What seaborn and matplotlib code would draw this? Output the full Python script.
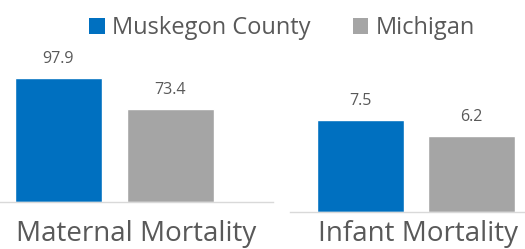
import matplotlib
matplotlib.use('Agg')
import matplotlib.pyplot as plt
from matplotlib.patches import Patch
import pandas as pd
import seaborn as sns

# data
regions = ['Muskegon County', 'Michigan']
maternal_values = [97.9, 73.4]
infant_values = [7.5, 6.2]
panel_titles = ['Maternal Mortality', 'Infant Mortality']
region_colors = ['#0070C0', '#A5A5A5']

sns.set_style('white')
plt.rcParams['font.family'] = ['Open Sans', 'DejaVu Sans']
text_color = '#595959'

fig = plt.figure(figsize=(5.25, 2.49), dpi=100)

# left panel spans 0..273 px, baseline at y=202; right panel 290..545 px, baseline at y=212
ax_left = fig.add_axes([0.0, 47 / 249, 273 / 525, 162 / 249])
ax_right = fig.add_axes([290 / 525, 37 / 249, 255 / 525, 172 / 249])

panels = [
    (ax_left, maternal_values, panel_titles[0], 127.9, (-0.52, 1.915), 13.0),
    (ax_right, infant_values, panel_titles[1], 14.0, (-0.63, 1.66), 5.5),
]

for axes, values, title, ymax, xlim, pad in panels:
    df = pd.DataFrame({'region': regions, 'value': values})
    sns.barplot(data=df, x='region', y='value', hue='region', palette=region_colors,
                width=0.78, legend=False, ax=axes, saturation=1)
    for container in axes.containers:
        axes.bar_label(container, fmt='%.1f', padding=8, fontsize=11.5, color=text_color)
    axes.set_ylim(0, ymax)
    axes.set_xlim(*xlim)
    axes.set_xticks([])
    axes.set_yticks([])
    axes.set_ylabel('')
    axes.set_xlabel(title, fontsize=20, color=text_color, labelpad=pad)
    for side in ['top', 'right', 'left']:
        axes.spines[side].set_visible(False)
    axes.spines['bottom'].set_color('#D9D9D9')
    axes.spines['bottom'].set_linewidth(1.0)

handles = [Patch(facecolor=c, edgecolor='none') for c in region_colors]
fig.legend(handles, regions, loc='center', bbox_to_anchor=(282 / 525, 1 - 28 / 249),
           ncol=2, frameon=False, fontsize=17, handlelength=0.65, handleheight=0.65,
           handletextpad=0.3, columnspacing=1.8, labelcolor=text_color)

plt.savefig('out.png', dpi=100)
plt.close('all')
